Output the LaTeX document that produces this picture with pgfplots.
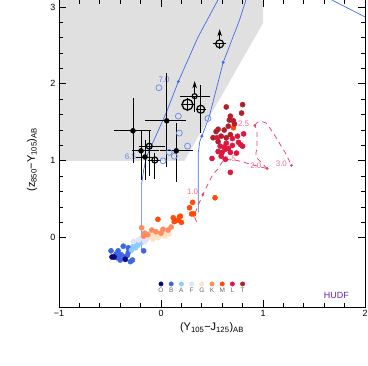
\documentclass[border=0pt]{standalone}
\usepackage{pgfplots}
\pgfplotsset{compat=1.18}
\usepackage{fontspec}
\setmainfont{Liberation Sans}
\usetikzlibrary{arrows.meta}
\definecolor{cO}{HTML}{0A0A80}
\definecolor{cB}{HTML}{3F66E0}
\definecolor{cA}{HTML}{8CCBF8}
\definecolor{cF}{HTML}{E2E2F6}
\definecolor{cG}{HTML}{FFE3C2}
\definecolor{cK}{HTML}{FF8A5E}
\definecolor{cM}{HTML}{FF4A0A}
\definecolor{cL}{HTML}{DC1840}
\definecolor{cT}{HTML}{B41E2A}
\definecolor{trk}{HTML}{3F6CE8}
\definecolor{pinkline}{HTML}{E8456E}
\definecolor{pinktext}{HTML}{EE7090}
\definecolor{bluetext}{HTML}{6A80F0}
\definecolor{hudf}{HTML}{6A1FA8}
\pgfplotsset{sdot/.style={only marks, mark=*, mark size=2.6, color=#1, mark options={draw=none, fill=#1}}}
\begin{document}
\begin{tikzpicture}
\begin{axis}[name=ax, scale only axis, width=306bp, height=307bp,
  axis on top,
  xmin=-1, xmax=2, ymin=-0.9, ymax=3.09,
  xtick={-1,0,1,2}, xticklabels={−1,0,1,2},
  ytick={0,1,2,3}, yticklabels={0,1,2,3},
  minor x tick num=4, minor y tick num=4,
  tick align=inside, xtick pos=both, ytick pos=both,
  xticklabel pos=lower, yticklabel pos=left,
  major tick length=7bp, minor tick length=4bp,
  tick style={black, line width=0.8pt},
  axis line style={line width=1pt},
  ticklabel style={font=\fontsize{9}{10}\selectfont},
  xlabel={(Y\textsubscript{105}−J\textsubscript{125})\textsubscript{AB}},
  ylabel={(z\textsubscript{850}−Y\textsubscript{105})\textsubscript{AB}},
  label style={font=\fontsize{11}{13}\selectfont},
  xlabel style={at={(axis description cs:0.5,-0.068)}, anchor=center},
  ylabel style={at={(axis description cs:-0.088,0.48)}, anchor=center},
]
% selection region
\addplot[fill=black!12, draw=none] coordinates {(-1,1) (0.23,1) (1.0,2.79) (1.0,3.2) (-1,3.2)} -- cycle;
% redshift tracks
\addplot[trk, line width=0.7pt] coordinates {(-0.19,-0.16) (-0.19,0.70) (-0.17,0.88) (-0.14,1.06) (0.05,1.62) (0.17,2.03) (0.36,2.6) (0.57,3.12)};
\addplot[trk, line width=0.7pt] coordinates {(0.365,0.33) (0.365,1.1) (0.38,1.25) (0.40,1.32) (0.47,1.56) (0.61,2.28) (0.77,2.83) (0.84,3.12)};
\addplot[trk, line width=0.7pt] coordinates {(1.66,3.1) (2.0,2.87)};
\addplot[only marks, mark=*, mark size=1.3, trk] coordinates {(0.17,2.03) (0.40,1.32) (0.61,2.28)};
% blue open circles
\addplot[only marks, mark=o, mark size=3, trk!75, mark options={line width=0.8pt}] coordinates {
(-0.02,1.95) (0.17,1.58) (0.18,1.36) (0.26,1.19) (0.08,1.11) (0.13,1.06) (0.02,1.0) (0.46,1.55)};
\node[bluetext, font=\fontsize{8}{9}\selectfont] at (axis cs:-0.30,1.05) {6.5};
\node[bluetext, font=\fontsize{8}{9}\selectfont] at (axis cs:0.03,2.05) {7.0};
% brown-dwarf track
\addplot[pinkline, line width=0.8pt, dash pattern=on 5bp off 4bp, smooth, tension=0.4] coordinates {
(0.35,0.21) (0.33,0.30) (0.41,0.56) (0.50,0.80) (0.56,0.90) (0.61,1.0) (0.68,1.02) (0.76,1.00) (0.84,0.97) (0.95,0.93) (1.04,0.90)};
\addplot[pinkline, line width=0.8pt, dash pattern=on 5bp off 4bp, smooth, tension=0.5] coordinates {
(1.04,0.90) (0.99,0.97) (0.93,1.06) (0.94,1.16) (0.94,1.27) (0.94,1.38) (0.92,1.46)};
\addplot[pinkline, line width=0.8pt, dash pattern=on 5bp off 4bp, smooth, tension=0.5] coordinates {
(0.92,1.46) (0.96,1.51) (1.03,1.49) (1.07,1.42) (1.12,1.32) (1.17,1.21) (1.22,1.10) (1.28,0.94)};
\addplot[only marks, mark=*, mark size=1.2, pinkline] coordinates {(0.41,0.56) (1.04,0.90) (0.92,1.46) (1.28,0.94)};
\node[pinktext, font=\fontsize{8}{9}\selectfont] at (axis cs:0.31,0.60) {1.0};
\node[pinktext, font=\fontsize{8}{9}\selectfont] at (axis cs:0.68,1.03) {1.5};
\node[pinktext, font=\fontsize{8}{9}\selectfont] at (axis cs:0.93,0.94) {2.0};
\node[pinktext, font=\fontsize{8}{9}\selectfont] at (axis cs:0.81,1.48) {2.5};
\node[pinktext, font=\fontsize{8}{9}\selectfont] at (axis cs:1.18,0.96) {3.0};
% stellar locus
\addplot[sdot=cB] coordinates {
(-0.49,-0.17) (-0.42,-0.17) (-0.37,-0.11) (-0.32,-0.19) (-0.39,-0.22) (-0.43,-0.26) (-0.40,-0.29) (-0.30,-0.31) (-0.28,-0.29) (-0.17,-0.17) (-0.32,-0.13) (-0.44,-0.21) (-0.36,-0.25) (-0.41,-0.24) (-0.33,-0.23)};
\addplot[sdot=cO] coordinates {(-0.48,-0.25) (-0.46,-0.25) (-0.35,-0.28)};
\addplot[sdot=cA] coordinates {
(-0.27,-0.11) (-0.24,-0.09) (-0.25,-0.13) (-0.21,-0.07) (-0.29,-0.16) (-0.19,-0.06) (-0.23,-0.10)};
\addplot[sdot=cF] coordinates {
(-0.27,-0.05) (-0.22,-0.03) (-0.16,-0.05) (-0.14,-0.02) (-0.20,-0.01)};
\addplot[sdot=cG] coordinates {
(-0.11,0.02) (-0.06,0.04) (-0.08,-0.02) (-0.01,0.03) (0.04,0.02) (0.05,0.06) (-0.03,0.0) (-0.12,0.05) (0.08,0.05)};
\addplot[sdot=cK] coordinates {
(-0.19,0.13) (-0.16,0.06) (-0.09,0.10) (0.02,0.11) (0.00,0.06) (0.07,0.10) (-0.13,0.04) (-0.05,0.08) (0.10,0.14) (-0.17,0.02)};
\addplot[sdot=cM] coordinates {
(-0.03,0.24) (0.13,0.21) (0.17,0.23) (0.20,0.20) (0.19,0.28) (0.28,0.39) (0.31,0.46) (0.32,0.31) (0.53,0.52) (0.30,0.31) (0.18,0.27) (0.14,0.22) (0.71,1.43) (0.12,0.26)};
\addplot[sdot=cT] coordinates {
(0.64,1.70) (0.80,1.73) (0.79,1.62) (0.68,1.58) (0.67,1.53) (0.71,1.52) (0.72,1.48) (0.56,1.41) (0.54,1.38) (0.51,1.30) (0.59,1.32) (0.64,1.30) (0.68,1.34) (0.56,1.25) (0.62,1.40) (0.66,1.45)};
\addplot[sdot=cL] coordinates {
(0.81,1.35) (0.75,1.32) (0.70,1.29) (0.76,1.24) (0.64,1.23) (0.58,1.19) (0.63,1.15) (0.56,1.12) (0.60,1.11) (0.68,1.11) (0.78,1.21) (0.80,1.19) (0.74,1.10) (0.50,1.03) (0.59,1.06) (0.63,1.02) (0.68,0.85) (0.62,1.18) (0.66,1.16) (0.70,1.20) (0.55,1.30)};
% legend of spectral types
\addplot[sdot=cO, mark size=2.2] coordinates {(0.0,-0.60)};
\addplot[sdot=cB, mark size=2.2] coordinates {(0.1,-0.60)};
\addplot[sdot=cA, mark size=2.2] coordinates {(0.2,-0.60)};
\addplot[sdot=cF, mark size=2.2] coordinates {(0.3,-0.60)};
\addplot[sdot=cG, mark size=2.2] coordinates {(0.4,-0.60)};
\addplot[sdot=cK, mark size=2.2] coordinates {(0.5,-0.60)};
\addplot[sdot=cM, mark size=2.2] coordinates {(0.6,-0.60)};
\addplot[sdot=cL, mark size=2.2] coordinates {(0.7,-0.60)};
\addplot[sdot=cT, mark size=2.2] coordinates {(0.8,-0.60)};
\node[black!60, font=\fontsize{6.5}{7}\selectfont] at (axis cs:0.0,-0.685) {O};
\node[black!60, font=\fontsize{6.5}{7}\selectfont] at (axis cs:0.1,-0.685) {B};
\node[black!60, font=\fontsize{6.5}{7}\selectfont] at (axis cs:0.2,-0.685) {A};
\node[black!60, font=\fontsize{6.5}{7}\selectfont] at (axis cs:0.3,-0.685) {F};
\node[black!60, font=\fontsize{6.5}{7}\selectfont] at (axis cs:0.4,-0.685) {G};
\node[black!60, font=\fontsize{6.5}{7}\selectfont] at (axis cs:0.5,-0.685) {K};
\node[black!60, font=\fontsize{6.5}{7}\selectfont] at (axis cs:0.6,-0.685) {M};
\node[black!60, font=\fontsize{6.5}{7}\selectfont] at (axis cs:0.7,-0.685) {L};
\node[black!60, font=\fontsize{6.5}{7}\selectfont] at (axis cs:0.8,-0.685) {T};
\node[hudf, font=\fontsize{9}{10}\selectfont] at (axis cs:1.72,-0.745) {HUDF};
% candidates: filled
\pgfplotsset{ebar/.style={error bars/.cd, x dir=both, y dir=both, x explicit, y explicit,
  error mark=none, error bar style={black, line width=0.8pt}}}
\addplot[only marks, mark=*, mark size=2.5, black, ebar] coordinates {
(-0.275,1.39) += (0.175,0.42) -= (0.185,0.42)
(0.056,1.52) += (0.19,0.62) -= (0.21,0.60)
(-0.196,1.13) += (0.18,0.27) -= (0.09,0.38)
(-0.157,1.05) += (0.09,0.22) -= (0.09,0.30)
(0.15,1.13) += (0.16,0.36) -= (0.16,0.41)};
% candidates: open
\addplot[only marks, mark=o, mark size=3, black, mark options={line width=1.2pt}, ebar] coordinates {
(-0.115,1.19) += (0.155,0.21) -= (0.105,0.39)
(-0.06,1.01) += (0.06,0.09) -= (0.07,0.24)};
\addplot[only marks, mark=o, mark size=5.5, black, mark options={line width=1.3pt}, ebar] coordinates {
(0.26,1.73) +- (0.06,0.08)};
\addplot[only marks, mark=o, mark size=4, black, mark options={line width=1.2pt}, ebar] coordinates {
(0.39,1.67) += (0.05,0.32) -= (0.05,0.31)
(0.575,2.52) += (0.065,0.0) -= (0.065,0.07)};
\addplot[only marks, mark=o, mark size=2.5, black, mark options={line width=1.2pt}, ebar] coordinates {
(0.33,1.84) += (0.15,0.0) -= (0.14,0.2)};
\addplot[black, line width=0.9pt, -{Stealth[length=7bp,width=4.5bp]}, quiver={u=\thisrow{u}, v=\thisrow{v}}] table[row sep=\\] {
x y u v \\ 0.33 1.875 0 0.16 \\ 0.575 2.57 0 0.14 \\};
\end{axis}
\pgfresetboundingbox
\path ([shift={(-59bp,-59bp)}]ax.south west) rectangle ([shift={(3bp,0bp)}]ax.north east);
\end{tikzpicture}
\end{document}
